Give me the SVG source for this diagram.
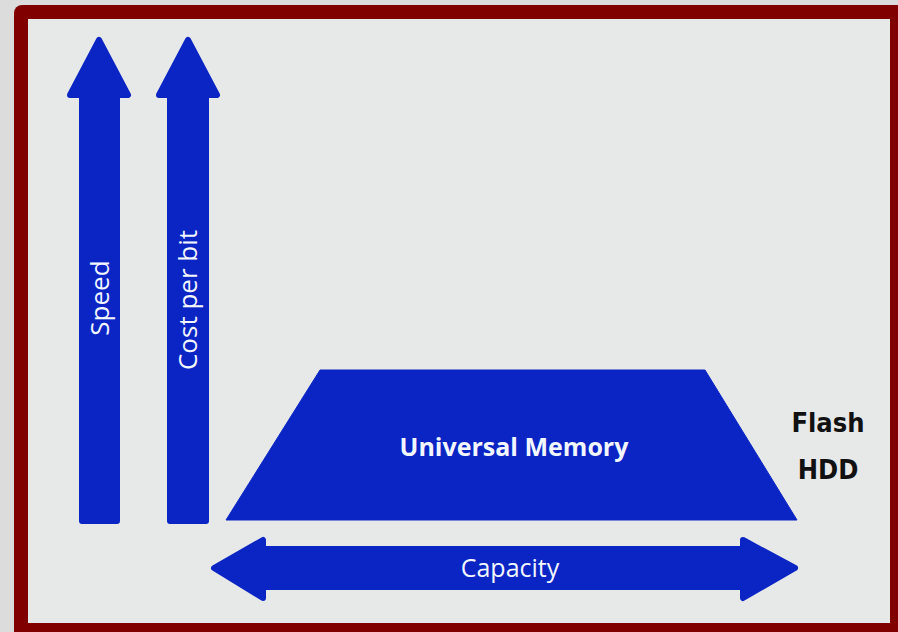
<svg xmlns="http://www.w3.org/2000/svg" width="898" height="632" viewBox="0 0 898 632">
<style>
.blue{fill:#0a25c4;stroke:#0a25c4;stroke-width:6;stroke-linejoin:round}
.wt{fill:#f2f6ff;font-family:"Open Sans","DejaVu Sans",sans-serif}
.bk{fill:#111;font-family:"DejaVu Sans Condensed","DejaVu Sans",sans-serif;font-weight:bold;font-stretch:condensed;font-size:27px;text-anchor:middle}
</style>
<rect x="0" y="0" width="898" height="632" fill="#dcdcdc"/>
<rect x="14" y="5" width="900" height="640" rx="8" fill="#800000"/>
<rect x="28" y="19" width="862" height="604" fill="#e7e8e8"/>
<g id="speed">
<path class="blue" d="M82,521 V95 H70 L99,40 L128,95 H117 V521 Z"/>
<text class="wt" font-size="26" text-anchor="middle" transform="translate(109,298) rotate(-90)">Speed</text>
</g>
<g id="cost">
<path class="blue" d="M170,521 V95 H159 L188,40 L217,95 H206 V521 Z"/>
<text class="wt" font-size="26" text-anchor="middle" transform="translate(197,300) rotate(-90)">Cost per bit</text>
</g>
<g id="universal">
<path class="blue" style="stroke-width:1" d="M320,370 H705 L797,520 H226 Z"/>
<text class="wt" font-size="25" font-weight="bold" text-anchor="middle" x="514" y="456">Universal Memory</text>
</g>
<g id="labels">
<text class="bk" x="828" y="432">Flash</text>
<text class="bk" x="828" y="479">HDD</text>
</g>
<g id="capacity">
<path class="blue" d="M214,568 L263,540 V549 H743 V540 L795,568 L743,598 V587 H263 V598 Z"/>
<text class="wt" font-size="25" text-anchor="middle" x="510" y="577">Capacity</text>
</g>
</svg>
